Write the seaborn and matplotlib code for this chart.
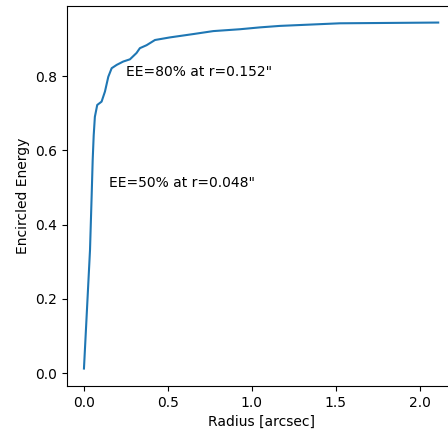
import matplotlib
matplotlib.use("Agg")
import matplotlib.pyplot as plt
import seaborn as sns
import pandas as pd

radius = [0.0, 0.036, 0.046, 0.052, 0.058, 0.065, 0.079, 0.105, 0.125, 0.145, 0.165, 0.195,
          0.234, 0.274, 0.313, 0.333, 0.373, 0.423, 0.512, 0.651, 0.77, 0.929, 1.048, 1.167,
          1.524, 2.11]
energy = [0.012, 0.331, 0.48, 0.574, 0.64, 0.69, 0.722, 0.731, 0.758, 0.798, 0.821, 0.830,
          0.839, 0.845, 0.862, 0.875, 0.883, 0.897, 0.904, 0.913, 0.921, 0.926, 0.931, 0.935,
          0.942, 0.944]
ee_levels = [0.5, 0.8]
ee_radii = [0.048, 0.152]

df = pd.DataFrame({"r": radius, "ee": energy})

fig = plt.figure(figsize=(4.48, 4.37), dpi=100)
ax = fig.add_axes([67/448, 1-386/437, (455-67)/448, (386-6)/437])
sns.lineplot(data=df, x="r", y="ee", ax=ax, color="#1f77b4", linewidth=1.5)
for lev, r in zip(ee_levels, ee_radii):
    ax.text(r + 0.1, lev, f'EE={lev*100:.0f}% at r={r:.3f}"', fontsize=10)
ax.set_xlabel("Radius [arcsec]")
ax.set_ylabel("Encircled Energy")
ax.set_xlim(-0.101, 2.21)
ax.set_ylim(-0.035, 0.9886)
ax.set_xticks([0.0, 0.5, 1.0, 1.5, 2.0])
ax.set_yticks([0.0, 0.2, 0.4, 0.6, 0.8])
fig.savefig("out.png", dpi=100)
